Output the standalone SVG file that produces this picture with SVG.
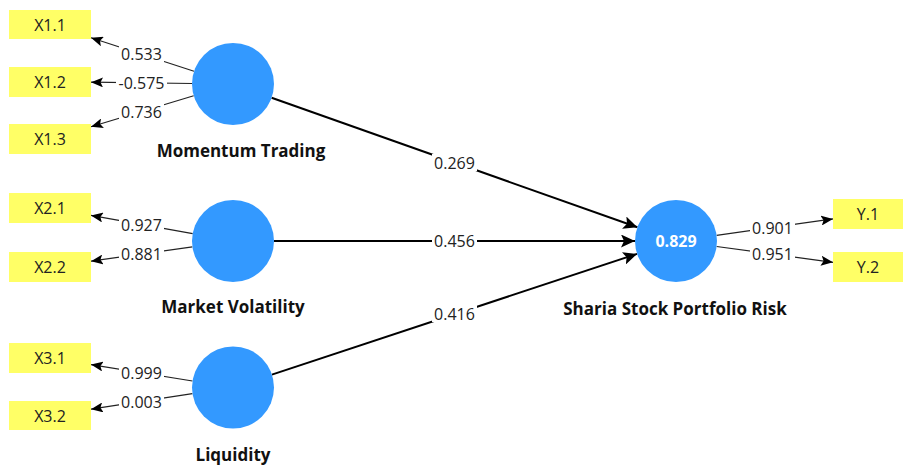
<svg xmlns="http://www.w3.org/2000/svg" width="905" height="465" viewBox="0 0 905 465">
<style>
.lat{fill:#3399FF}
.ind rect{fill:#FFFF66}
.ind text{font-family:"Open Sans","Noto Sans",sans-serif;font-size:16px;fill:#222;text-anchor:middle;dominant-baseline:central}
.name{font-family:"Open Sans","Noto Sans",sans-serif;font-size:17px;font-weight:bold;fill:#111;text-anchor:middle}
.r2{font-family:"Open Sans","Noto Sans",sans-serif;font-size:16px;font-weight:bold;fill:#fff;text-anchor:middle;dominant-baseline:central}
.path{stroke:#000;stroke-width:2;fill:none;marker-end:url(#big)}
.load{stroke:#222;stroke-width:1.2;fill:none;marker-end:url(#small)}
.lbl rect{fill:#fff}
.lbl text{font-family:"Open Sans","Noto Sans",sans-serif;font-size:16px;fill:#222;text-anchor:middle;dominant-baseline:central}
</style>
<defs>
<marker id="big" markerUnits="userSpaceOnUse" markerWidth="15" markerHeight="13" refX="14" refY="6.5" orient="auto">
<path d="M0,0 L14,6.5 L0,13 L3,6.5 z" fill="#000"/>
</marker>
<marker id="small" markerUnits="userSpaceOnUse" markerWidth="12" markerHeight="10" refX="12" refY="5" orient="auto">
<path d="M0,0 L12,5 L0,10 L2.5,5 z" fill="#000"/>
</marker>
</defs>
<rect width="905" height="465" fill="#fff"/>

<g id="connectors">
<line class="path" x1="271.6" y1="97.7" x2="637.4" y2="227.3"/>
<line class="path" x1="274" y1="241" x2="635" y2="241"/>
<line class="path" x1="271.9" y1="374.6" x2="637.1" y2="253.9"/>
<line class="load" x1="194" y1="71.3" x2="91" y2="37.8"/>
<line class="load" x1="192" y1="83.5" x2="91" y2="82.2"/>
<line class="load" x1="193.7" y1="95.8" x2="91" y2="126.7"/>
<line class="load" x1="192.7" y1="233.7" x2="91" y2="215.4"/>
<line class="load" x1="192.4" y1="246.8" x2="91" y2="261.2"/>
<line class="load" x1="192.5" y1="381" x2="91" y2="364.6"/>
<line class="load" x1="192.4" y1="393.7" x2="91" y2="409.2"/>
<line class="load" x1="716.6" y1="235.3" x2="833" y2="218.9"/>
<line class="load" x1="716.6" y1="246.5" x2="833" y2="262.3"/>
<g class="lbl">
<rect x="432" y="154" width="45" height="17"/><text x="454.5" y="162.5">0.269</text>
<rect x="432" y="232" width="45" height="17"/><text x="454.5" y="241">0.456</text>
<rect x="432" y="305" width="45" height="17"/><text x="454.5" y="314">0.416</text>
<rect x="119" y="45" width="45" height="17"/><text x="141.5" y="54">0.533</text>
<rect x="116" y="74" width="51" height="17"/><text x="141.5" y="83">-0.575</text>
<rect x="119" y="103" width="45" height="17"/><text x="141.5" y="111.5">0.736</text>
<rect x="119" y="216" width="45" height="17"/><text x="141.5" y="224.5">0.927</text>
<rect x="119" y="245" width="45" height="17"/><text x="141.5" y="254">0.881</text>
<rect x="119" y="364" width="45" height="17"/><text x="141.5" y="372.8">0.999</text>
<rect x="119" y="393" width="45" height="17"/><text x="141.5" y="401.5">0.003</text>
<rect x="750" y="219" width="45" height="17"/><text x="772.5" y="227.5">0.901</text>
<rect x="750" y="245" width="45" height="17"/><text x="772.5" y="254">0.951</text>
</g>
</g>

<g id="momentum"><circle class="lat" cx="233" cy="84" r="41"/><text class="name" x="241" y="157">Momentum Trading</text></g>
<g id="volatility"><circle class="lat" cx="233" cy="241" r="41"/><text class="name" x="233" y="313">Market Volatility</text></g>
<g id="liquidity"><circle class="lat" cx="233" cy="387.5" r="41"/><text class="name" x="233" y="461">Liquidity</text></g>
<g id="risk"><circle class="lat" cx="676" cy="241" r="41"/><text class="r2" x="676" y="241">0.829</text><text class="name" x="675" y="315">Sharia Stock Portfolio Risk</text></g>

<g id="X1.1" class="ind"><rect x="9" y="10" width="82" height="29"/><text x="50" y="24.5">X1.1</text></g>
<g id="X1.2" class="ind"><rect x="9" y="67" width="82" height="30"/><text x="50" y="82">X1.2</text></g>
<g id="X1.3" class="ind"><rect x="9" y="124" width="82" height="30"/><text x="50" y="139">X1.3</text></g>
<g id="X2.1" class="ind"><rect x="9" y="193" width="82" height="30"/><text x="50" y="208">X2.1</text></g>
<g id="X2.2" class="ind"><rect x="9" y="252" width="82" height="30"/><text x="50" y="267">X2.2</text></g>
<g id="X3.1" class="ind"><rect x="9" y="343" width="82" height="30"/><text x="50" y="358">X3.1</text></g>
<g id="X3.2" class="ind"><rect x="9" y="401" width="82" height="29"/><text x="50" y="415.5">X3.2</text></g>
<g id="Y.1" class="ind"><rect x="833" y="199" width="70" height="30"/><text x="868" y="214">Y.1</text></g>
<g id="Y.2" class="ind"><rect x="833" y="252" width="70" height="30"/><text x="868" y="267">Y.2</text></g>
</svg>
